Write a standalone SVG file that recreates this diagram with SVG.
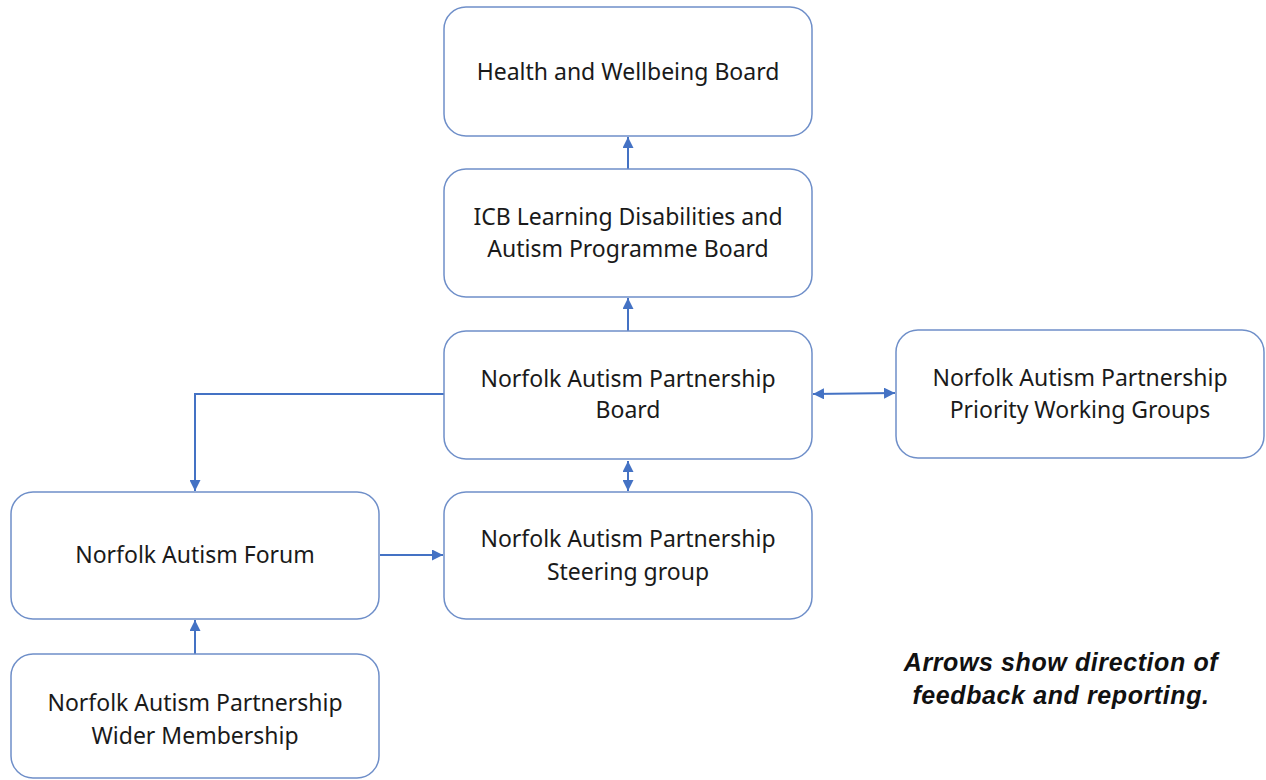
<svg xmlns="http://www.w3.org/2000/svg" width="1266" height="780" viewBox="0 0 1266 780">
<defs>
<style>
.box{fill:#fff;stroke:#6f8fc9;stroke-width:1.5}
.t{font-family:"Noto Sans","Open Sans",sans-serif;font-size:23px;fill:#1a1a1a;text-anchor:middle}
.c{stroke:#4472c4;stroke-width:2;fill:none}
.note{font-family:"Liberation Sans",Arial,sans-serif;font-size:25px;letter-spacing:0.6px;font-weight:bold;font-style:italic;fill:#111;text-anchor:middle}
</style>
<marker id="ah" viewBox="0 0 10 10" refX="10" refY="5" markerWidth="5.5" markerHeight="5.5" orient="auto-start-reverse" markerUnits="strokeWidth">
<path d="M0,0 L10,5 L0,10 z" fill="#4472c4"/>
</marker>
</defs>
<rect width="1266" height="780" fill="#fff"/>
<g id="connectors">
<line class="c" x1="628" y1="169" x2="628" y2="137" marker-end="url(#ah)"/>
<line class="c" x1="628" y1="331" x2="628" y2="298" marker-end="url(#ah)"/>
<line class="c" x1="628" y1="461" x2="628" y2="491" marker-start="url(#ah)" marker-end="url(#ah)"/>
<line class="c" x1="813" y1="394" x2="895" y2="393" marker-start="url(#ah)" marker-end="url(#ah)"/>
<polyline class="c" points="444,394 195,394 195,491" marker-end="url(#ah)"/>
<line class="c" x1="380" y1="555" x2="443" y2="555" marker-end="url(#ah)"/>
<line class="c" x1="195" y1="654" x2="195" y2="620" marker-end="url(#ah)"/>
</g>
<g id="health">
<rect class="box" x="444" y="7" width="368" height="129" rx="22"/>
<text class="t" x="628" y="80">Health and Wellbeing Board</text>
</g>
<g id="icb">
<rect class="box" x="444" y="169" width="368" height="128" rx="22"/>
<text class="t" x="628" y="225">ICB Learning Disabilities and</text>
<text class="t" x="628" y="257">Autism Programme Board</text>
</g>
<g id="napboard">
<rect class="box" x="444" y="331" width="368" height="128" rx="22"/>
<text class="t" x="628" y="387">Norfolk Autism Partnership</text>
<text class="t" x="628" y="418">Board</text>
</g>
<g id="priority">
<rect class="box" x="896" y="330" width="368" height="128" rx="22"/>
<text class="t" x="1080" y="386">Norfolk Autism Partnership</text>
<text class="t" x="1080" y="418">Priority Working Groups</text>
</g>
<g id="forum">
<rect class="box" x="11" y="492" width="368" height="127" rx="22"/>
<text class="t" x="195" y="563">Norfolk Autism Forum</text>
</g>
<g id="steering">
<rect class="box" x="444" y="492" width="368" height="127" rx="22"/>
<text class="t" x="628" y="547">Norfolk Autism Partnership</text>
<text class="t" x="628" y="580">Steering group</text>
</g>
<g id="wider">
<rect class="box" x="11" y="654" width="368" height="124" rx="22"/>
<text class="t" x="195" y="711">Norfolk Autism Partnership</text>
<text class="t" x="195" y="744">Wider Membership</text>
</g>
<g id="note">
<text class="note" x="1061" y="671">Arrows show direction of</text>
<text class="note" x="1061" y="704">feedback and reporting.</text>
</g>
</svg>
